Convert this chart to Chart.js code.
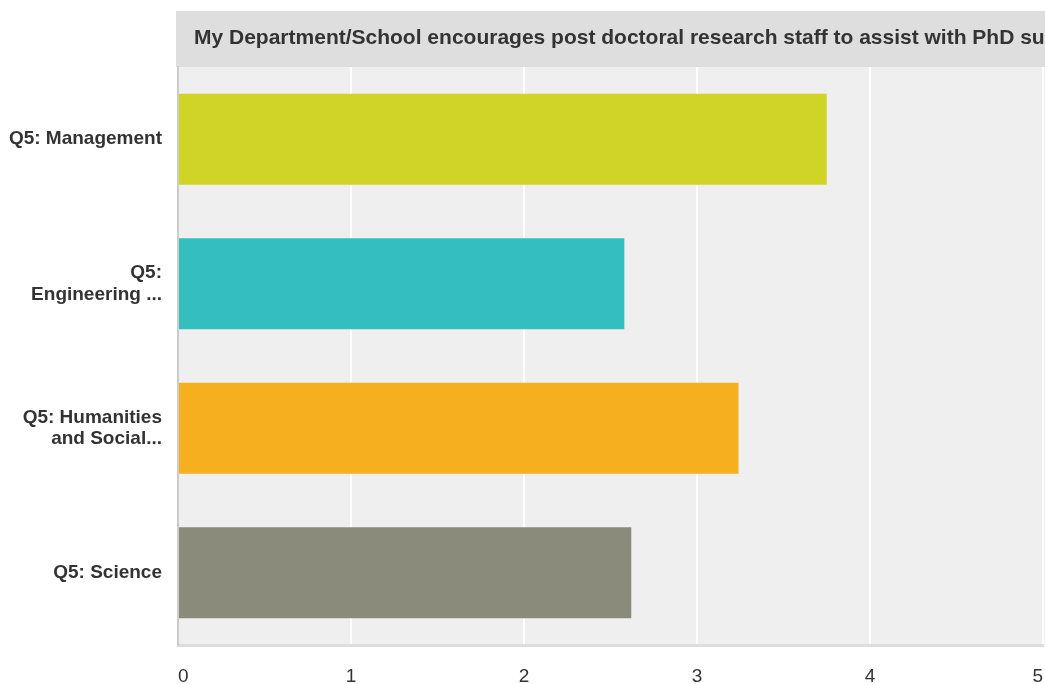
<!DOCTYPE html>
<html>
<head>
<meta charset="utf-8">
<title>Q5 chart</title>
<script src="https://cdn.jsdelivr.net/npm/chart.js@4.4.0/dist/chart.umd.min.js"></script>
<style>
  html, body { margin: 0; padding: 0; background: #fff; }
  #wrap { width: 1045px; height: 684px; position: relative; }
</style>
</head>
<body>
<div id="wrap"><canvas id="chart"></canvas></div>
<script>
/* ---------- data ---------- */
const chartTitle =
  "My Department/School encourages post doctoral research staff to assist with PhD supervision";
const categories = [
  ["Q5: Management"],
  ["Q5:", "Engineering ..."],
  ["Q5: Humanities", "and Social..."],
  ["Q5: Science"],
];
const averages = [3.75, 2.58, 3.24, 2.62];
const barColors = ["#cfd427", "#35bec0", "#f6af1f", "#8a8b7a"];
const xTickValues = [0, 1, 2, 3, 4, 5];

/* ---------- helpers ---------- */
const FONT = "'Liberation Sans', Arial, Helvetica, sans-serif";
Chart.defaults.font.family = FONT;
Chart.defaults.color = "#333";

// grey header strip + plot background
const panelPlugin = {
  id: "panel",
  beforeDraw(chart) {
    const { ctx, chartArea: a, width } = chart;
    ctx.save();
    ctx.fillStyle = "#efefef";
    ctx.fillRect(a.left, a.top, width - a.left, a.bottom - a.top);
    ctx.fillStyle = "#dedede";
    ctx.fillRect(a.left - 2, 11, width - a.left + 2, a.top - 11);
    ctx.fillStyle = "#333";
    ctx.font = "bold 21px " + FONT;
    ctx.textBaseline = "alphabetic";
    ctx.textAlign = "left";
    ctx.fillText(chartTitle, a.left + 16, 44);
    ctx.restore();
  },
};

/* ---------- chart ---------- */
new Chart(document.getElementById("chart"), {
  type: "bar",
  data: {
    labels: categories,
    datasets: [
      {
        label: "Average",
        data: averages,
        backgroundColor: barColors,
        borderWidth: 0,
        barPercentage: 0.63,
        categoryPercentage: 1,
      },
    ],
  },
  options: {
    indexAxis: "y",
    responsive: true,
    maintainAspectRatio: false,
    animation: false,
    layout: { padding: { top: 67, right: 2, left: 0, bottom: 0 } },
    plugins: { legend: { display: false }, title: { display: false } },
    scales: {
      x: {
        min: xTickValues[0],
        max: xTickValues[xTickValues.length - 1],
        afterBuildTicks: (scale) => {
          scale.ticks = xTickValues.map((v) => ({ value: v }));
        },
        afterFit: (scale) => {
          scale.height = 39;
          scale.paddingLeft = 0;
          scale.paddingRight = 0;
        },
        grid: { color: "#ffffff", lineWidth: 2, drawTicks: false },
        border: { color: "#dddddd", width: 3 },
        ticks: {
          align: "inner",
          padding: 20,
          font: { size: 19 },
          color: "#333",
        },
      },
      y: {
        afterFit: (scale) => {
          scale.width = 178;
          scale.paddingTop = 0;
          scale.paddingBottom = 0;
        },
        grid: { display: false, drawTicks: false },
        border: { color: "#cccccc", width: 2 },
        ticks: {
          padding: 16,
          font: { size: 19, weight: "bold", lineHeight: 1.15 },
          color: "#333",
        },
      },
    },
  },
  plugins: [panelPlugin],
});
</script>
</body>
</html>
